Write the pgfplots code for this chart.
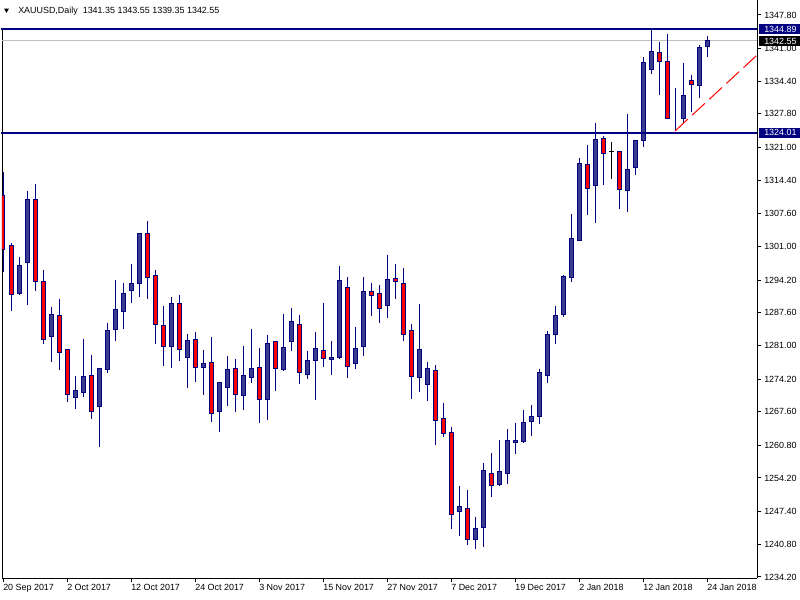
\documentclass[border=0pt]{standalone}
\usepackage{pgfplots}
\usepackage{pgfplotstable}
\pgfplotsset{compat=1.18}
\usepackage{fontspec}
\setmainfont{Liberation Sans}

\definecolor{navy}{RGB}{0,0,128}
\definecolor{bull}{RGB}{60,60,140}
\definecolor{bear}{RGB}{255,0,0}
\definecolor{bidgray}{RGB}{192,192,192}
\definecolor{trend}{RGB}{255,0,0}

% daily bars: index, open, high, low, close
\pgfplotstableread{
i  o       h       l       c
0  1311.21 1316.13 1295.92 1300.30
1  1301.10 1301.64 1288.03 1291.33
2  1291.47 1298.88 1291.20 1297.06
3  1297.80 1312.20 1289.20 1310.40
4  1310.40 1313.60 1292.10 1293.90
5  1294.00 1296.25 1281.36 1282.20
6  1282.80 1288.84 1277.72 1287.16
7  1286.96 1290.40 1276.04 1279.60
8  1280.20 1280.20 1269.60 1271.12
9  1270.40 1274.80 1268.20 1271.80
10 1271.50 1282.30 1270.65 1274.80
11 1275.00 1279.10 1266.10 1267.60
12 1268.60 1276.40 1260.50 1276.40
13 1276.20 1285.60 1275.40 1284.10
14 1284.30 1294.20 1281.90 1288.20
15 1287.80 1293.60 1284.30 1291.40
16 1292.07 1297.50 1289.65 1293.42
17 1293.56 1303.66 1290.73 1303.53
18 1303.53 1306.16 1290.32 1294.77
19 1295.17 1296.25 1281.29 1285.27
20 1285.07 1288.97 1276.91 1280.75
21 1280.75 1290.73 1276.51 1289.51
22 1289.51 1291.20 1277.92 1280.21
23 1278.60 1283.31 1272.47 1282.03
24 1282.24 1283.72 1273.61 1276.58
25 1276.58 1280.08 1270.98 1277.38
26 1277.59 1282.71 1265.59 1267.14
27 1267.68 1273.54 1263.57 1273.54
28 1272.53 1278.87 1268.83 1276.17
29 1276.37 1278.26 1267.61 1271.18
30 1270.91 1280.89 1267.95 1274.82
31 1274.55 1284.30 1273.34 1276.37
32 1276.58 1280.40 1265.40 1270.10
33 1270.10 1283.10 1265.93 1281.43
34 1281.83 1281.83 1271.86 1276.37
35 1276.17 1287.36 1275.90 1280.62
36 1281.83 1288.50 1279.95 1285.88
37 1285.20 1287.09 1273.20 1275.56
38 1275.16 1279.88 1274.15 1277.99
39 1277.99 1283.72 1269.97 1280.42
40 1280.00 1289.58 1276.71 1278.40
41 1278.20 1281.90 1275.10 1278.50
42 1278.53 1297.06 1278.20 1294.16
43 1292.75 1294.84 1274.49 1276.78
44 1277.38 1284.66 1276.17 1280.42
45 1280.82 1294.84 1278.93 1291.94
46 1291.94 1293.62 1287.02 1291.13
47 1291.54 1293.22 1285.60 1288.50
48 1289.11 1299.29 1286.62 1294.37
49 1294.57 1297.47 1290.46 1293.96
50 1293.56 1296.59 1281.97 1283.25
51 1283.92 1285.34 1270.24 1274.76
52 1274.56 1289.38 1271.66 1280.08
53 1273.07 1277.65 1269.84 1276.24
54 1275.83 1276.98 1260.88 1265.86
55 1266.27 1269.37 1262.56 1263.24
56 1263.44 1264.51 1243.96 1246.86
57 1247.40 1252.59 1242.55 1248.34
58 1247.94 1251.78 1240.73 1241.81
59 1241.81 1246.39 1239.78 1244.03
60 1244.23 1257.17 1240.32 1255.76
61 1255.15 1259.19 1250.43 1252.72
62 1252.93 1261.89 1252.59 1255.55
63 1255.15 1264.04 1252.93 1261.82
64 1261.41 1265.39 1259.00 1261.82
65 1261.55 1267.95 1261.35 1265.46
66 1265.59 1268.96 1262.76 1266.67
67 1266.67 1276.24 1265.05 1275.56
68 1274.89 1283.92 1273.48 1283.25
69 1283.25 1288.97 1281.22 1287.09
70 1287.29 1295.31 1286.82 1294.97
71 1294.77 1307.50 1293.89 1302.65
72 1302.25 1318.83 1302.25 1317.81
73 1317.61 1321.52 1307.37 1312.76
74 1313.37 1325.90 1305.82 1322.67
75 1322.87 1323.34 1313.50 1319.84
76 1320.25 1322.06 1314.65 1320.25
77 1320.24 1320.24 1308.65 1312.49
78 1312.29 1327.79 1308.04 1316.60
79 1317.01 1322.46 1315.52 1322.46
80 1322.46 1339.38 1321.18 1338.23
81 1336.82 1344.89 1335.81 1340.46
82 1340.25 1342.34 1331.70 1338.43
83 1338.43 1343.96 1326.84 1326.84
84 1327.11 1332.97 1324.35 1327.11
85 1326.84 1338.10 1325.90 1331.56
86 1334.59 1335.67 1328.26 1333.78
87 1333.51 1341.74 1331.09 1341.26
88 1341.35 1343.55 1339.35 1342.55
}\candles

\pgfplotsset{
  mt/.style={
    scale only axis, width=566.6pt, height=433.7pt,
    at={(1.5pt,16.3pt)}, anchor=south west,
    xmin=-0.125, xmax=94.3, ymin=1233.93, ymax=1350.83,
  },
}

\begin{document}
\begin{tikzpicture}
\path[use as bounding box, fill=white] (0,0) rectangle (600pt,450pt);

% frame, scales, bid line, wicks
\begin{axis}[mt,
    axis x line*=bottom, axis y line*=right,
    axis line style={black, line width=0.75pt},
    tick align=outside, major tick length=3pt,
    tick style={black, line width=0.75pt},
    /pgf/number format/assume math mode=true,
    every tick label/.append style={font=\fontsize{6.7}{8}\selectfont},
    xtick={0,8,...,88},
    xticklabels={20 Sep 2017,2 Oct 2017,12 Oct 2017,24 Oct 2017,3 Nov 2017,
      15 Nov 2017,27 Nov 2017,7 Dec 2017,19 Dec 2017,2 Jan 2018,12 Jan 2018,24 Jan 2018},
    xticklabel style={anchor=north west, inner sep=0pt, yshift=-1.5pt},
    ytick={1347.80,1341.00,1334.40,1327.80,1321.00,1314.40,1307.60,1301.00,1294.20,
      1287.60,1281.00,1274.20,1267.60,1260.80,1254.20,1247.40,1240.80,1234.20},
    yticklabels={1347.80,1341.00,1334.40,1327.80,1321.00,1314.40,1307.60,1301.00,1294.20,
      1287.60,1281.00,1274.20,1267.60,1260.80,1254.20,1247.40,1240.80,1234.20},
    yticklabel style={anchor=west, inner sep=0pt, xshift=1.9pt},
  ]
  \draw[black, line width=0.75pt] (rel axis cs:0,0) -- (rel axis cs:0,0.948);
  \addplot[bidgray, line width=0.75pt] coordinates {(-0.125,1342.55) (94.3,1342.55)};
  \addplot[draw=none, mark=none,
    error bars/.cd, y dir=minus, y explicit, error mark=none,
    error bar style={draw=navy, line width=0.75pt}]
    table[x=i, y=h, y error minus expr=\thisrow{h}-\thisrow{l}] {\candles};
\end{axis}

% candle bodies
\begin{axis}[mt, hide axis, ybar stacked, bar width=3pt]
  \addplot[draw=none, fill=none] table[x=i, y expr={min(\thisrow{o},\thisrow{c})}] {\candles};
  \addplot[draw=navy, fill=bull, line width=0.75pt] table[x=i, y expr={max(\thisrow{c}-\thisrow{o},0)}] {\candles};
  \addplot[draw=navy, fill=bear, line width=0.75pt] table[x=i, y expr={max(\thisrow{o}-\thisrow{c},0)}] {\candles};
\end{axis}

% objects: levels, trend line, price tags
\begin{axis}[mt, hide axis, clip=false]
  \addplot[black, only marks, mark=-, mark size=1.9pt, mark options={line width=0.75pt},
    error bars/.cd, y dir=both, y explicit, error mark=none,
    error bar style={black, line width=0.75pt}]
    coordinates {(76,1320.25) += (0,1.81) -= (0,5.60)};
  \addplot[navy, line width=1.5pt] coordinates {(-0.3,1344.89) (94.3,1344.89)};
  \addplot[navy, line width=1.5pt] coordinates {(-0.3,1324.01) (94.3,1324.01)};
  \addplot[trend, line width=0.75pt, dash pattern=on 13pt off 4.5pt] coordinates {(84,1324.35) (94.3,1339.77)};
  \node[fill=navy, text=white, anchor=west, inner xsep=4pt, inner ysep=0pt, minimum height=7.5pt,
    font=\fontsize{6.7}{8}\selectfont] at (axis cs:94.45,1344.89) {1344.89};
  \node[fill=black, text=white, anchor=west, inner xsep=4pt, inner ysep=0pt, minimum height=7.5pt,
    font=\fontsize{6.7}{8}\selectfont] at (axis cs:94.45,1342.55) {1342.55};
  \node[fill=navy, text=white, anchor=west, inner xsep=4pt, inner ysep=0pt, minimum height=7.5pt,
    font=\fontsize{6.7}{8}\selectfont] at (axis cs:94.45,1324.01) {1324.01};
\end{axis}

% chart caption
\fill[black] (3pt,443.6pt) -- (6.75pt,443.6pt) -- (4.875pt,440.4pt) -- cycle;
\node[anchor=west, inner sep=0pt, font=\fontsize{6.7}{8}\selectfont] at (13.5pt,441.8pt)
  {XAUUSD,Daily\ \ 1341.35 1343.55 1339.35 1342.55};
\end{tikzpicture}
\end{document}
